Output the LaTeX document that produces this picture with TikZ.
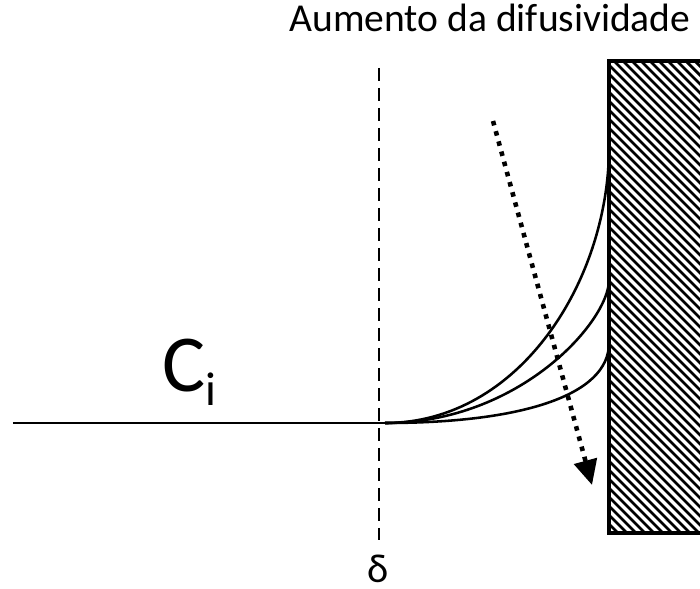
\documentclass[tikz,border=0pt]{standalone}
\usepackage{fontspec}
\setmainfont{Carlito}
\usetikzlibrary{arrows.meta}

\begin{document}
\begin{tikzpicture}[line width=1.15pt, >={Triangle[length=0.5cm,width=0.46cm]},
  profile/.style={line width=1.45pt},
  hatch/.style={line width=1.6pt},
  wall/.style={line width=1.8pt},
  front/.style={line width=1.3pt, dash pattern=on 0.26cm off 0.14cm},
  flux/.style={->, line width=2.6pt, dash pattern=on 2.6pt off 3.4pt}]
  \useasboundingbox (0,0) rectangle (14,-11.78);

  \node[anchor=base, font=\fontsize{22.5}{24}\selectfont] (title) at (9.8,-0.64) {Aumento da difusividade};
  \node[anchor=base west, inner sep=0pt] (ci) at (3.22,-7.82) {\fontsize{46}{46}\selectfont C\raisebox{-8.5pt}{\fontsize{27}{28}\selectfont i}};
  \node[anchor=base, inner sep=0pt, font=\fontsize{23}{24}\selectfont] (delta) at (7.56,-11.64) {δ};

  \coordinate (start) at (0.26,-8.46);
  \coordinate (s) at (7.7,-8.46);
  \coordinate (w1) at (12.18,-2.94);
  \coordinate (w2) at (12.18,-5.6);
  \coordinate (w3) at (12.18,-6.86);
  \coordinate (dtop) at (7.58,-1.36);
  \coordinate (dbot) at (7.58,-10.8);
  \coordinate (a1) at (9.86,-2.42);
  \coordinate (a2) at (11.84,-9.7);

  \begin{scope}
    \clip (12.18,-1.22) rectangle (14,-10.66);
    \foreach \x in {2.74,2.92,...,14.1}
      \draw[hatch] (\x,-1.22) -- ++(9.44,-9.44);
  \end{scope}
  \draw[wall] (14,-1.22) -| (12.18,-10.66) -- (14,-10.66);

  \draw[front] (dtop) -- (dbot);
  \draw[profile] (start) -- (s);
  \draw[profile] (s) .. controls (10.4,-8.46) and (12.18,-5.6) .. (w1);
  \draw[profile] (s) .. controls (10.4,-8.46) and (12.18,-6.42) .. (w2);
  \draw[profile] (s) .. controls (10.4,-8.46) and (12.18,-7.92) .. (w3);

  \draw[flux] (a1) -- (a2);
\end{tikzpicture}
\end{document}
